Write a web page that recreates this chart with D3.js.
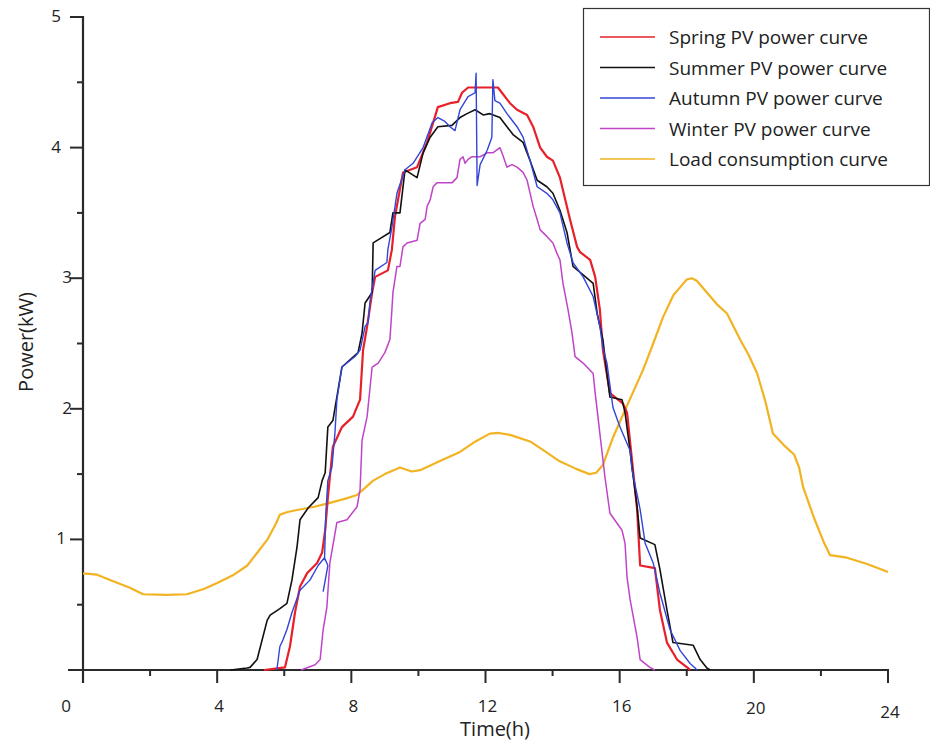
<!DOCTYPE html>
<html><head><meta charset="utf-8">
<script src="https://cdn.jsdelivr.net/npm/d3@7"></script>
<style>body{margin:0;background:#fff}svg{display:block}text{font-family:"Open Sans","Noto Sans",sans-serif;fill:#222}</style>
</head><body><svg id="c" width="930" height="744"></svg>
<script>
// ---- data (hour, kW) ----
const seriesNames = ["Spring PV power curve","Summer PV power curve","Autumn PV power curve","Winter PV power curve","Load consumption curve"];
const seriesColors = ["#e8202a","#111111","#3345d8","#c044c8","#f2b322"];
const xTickLabels = [0,4,8,12,16,20,24];
const yTickLabels = [1,2,3,4,5];

const spring = [[5.4,0],[6.02,0.02],[6.17,0.18],[6.32,0.44],[6.47,0.64],[6.68,0.74],[6.98,0.82],[7.13,0.9],[7.22,1.07],[7.3,1.32],[7.45,1.71],[7.72,1.86],[8.05,1.94],[8.26,2.07],[8.35,2.45],[8.47,2.63],[8.62,2.89],[8.71,3.01],[9.09,3.06],[9.21,3.22],[9.3,3.47],[9.54,3.81],[9.96,3.85],[10.26,4.04],[10.58,4.31],[10.94,4.34],[11.18,4.35],[11.3,4.42],[11.48,4.46],[11.75,4.46],[12.13,4.46],[12.37,4.46],[12.49,4.42],[12.73,4.34],[12.94,4.29],[13.24,4.25],[13.42,4.16],[13.63,4.0],[13.83,3.93],[14.01,3.9],[14.22,3.77],[14.52,3.45],[14.73,3.24],[14.82,3.2],[15.12,3.14],[15.27,3.01],[15.41,2.76],[15.5,2.45],[15.71,2.12],[16.1,2.04],[16.22,1.97],[16.52,1.23],[16.61,0.8],[17.05,0.78],[17.2,0.46],[17.41,0.21],[17.71,0.08],[18.04,0.015],[18.1,0]];

const summer = [[4.4,0],[4.89,0.015],[4.98,0.02],[5.19,0.08],[5.49,0.38],[5.58,0.42],[5.87,0.47],[6.08,0.51],[6.23,0.69],[6.38,0.94],[6.47,1.15],[6.71,1.24],[7.01,1.32],[7.13,1.45],[7.22,1.51],[7.3,1.86],[7.45,1.91],[7.72,2.32],[8.2,2.43],[8.32,2.58],[8.41,2.81],[8.62,2.89],[8.65,3.27],[8.77,3.29],[9.15,3.35],[9.24,3.5],[9.45,3.5],[9.6,3.83],[9.96,3.77],[10.14,3.96],[10.35,4.08],[10.58,4.16],[11.0,4.17],[11.24,4.23],[11.45,4.26],[11.69,4.29],[11.93,4.25],[12.13,4.26],[12.43,4.23],[12.64,4.16],[12.82,4.1],[13.12,4.04],[13.33,3.9],[13.54,3.75],[13.83,3.7],[14.01,3.65],[14.22,3.52],[14.43,3.35],[14.61,3.09],[15.21,2.96],[15.33,2.73],[15.5,2.53],[15.62,2.27],[15.71,2.09],[16.07,2.07],[16.16,1.97],[16.31,1.68],[16.37,1.55],[16.52,1.25],[16.61,1.01],[17.05,0.96],[17.2,0.77],[17.41,0.46],[17.59,0.21],[18.19,0.19],[18.4,0.08],[18.6,0.015],[18.7,0]];

const autumn = [[5.78,0],[5.87,0.18],[5.96,0.23],[6.08,0.31],[6.23,0.44],[6.47,0.61],[6.77,0.69],[7.01,0.8],[7.2,0.86],[7.3,0.8],[7.16,0.6],null,[7.2,0.84],[7.24,1.2],[7.3,1.45],[7.42,1.55],[7.51,1.81],[7.57,2.07],[7.72,2.32],[8.11,2.4],[8.26,2.45],[8.41,2.63],[8.5,2.66],[8.56,2.83],[8.71,3.06],[9.06,3.12],[9.09,3.22],[9.21,3.39],[9.36,3.65],[9.6,3.83],[9.84,3.88],[10.14,4.0],[10.41,4.19],[10.58,4.23],[10.79,4.2],[10.94,4.16],[11.09,4.13],[11.24,4.29],[11.48,4.39],[11.69,4.42],[11.72,4.57],[11.75,3.71],[11.84,3.87],[12.05,3.98],[12.19,4.08],[12.22,4.52],[12.28,4.36],[12.43,4.34],[12.64,4.26],[12.94,4.16],[13.12,4.08],[13.33,3.9],[13.54,3.7],[13.83,3.65],[14.01,3.6],[14.22,3.5],[14.43,3.27],[14.61,3.12],[14.91,3.01],[15.21,2.86],[15.41,2.63],[15.5,2.47],[15.62,2.35],[15.8,2.01],[16.01,1.86],[16.31,1.68],[16.37,1.53],[16.61,1.23],[16.76,0.97],[17.0,0.82],[17.2,0.59],[17.5,0.31],[17.8,0.15],[18.1,0.05],[18.25,0.015],[18.3,0]];

const winter = [[6.5,0],[6.92,0.04],[7.07,0.08],[7.16,0.31],[7.27,0.48],[7.36,0.82],[7.57,1.13],[7.87,1.15],[8.17,1.25],[8.26,1.38],[8.32,1.76],[8.47,1.94],[8.62,2.32],[8.8,2.35],[9.0,2.43],[9.15,2.53],[9.21,2.76],[9.24,2.89],[9.36,3.09],[9.45,3.09],[9.54,3.24],[9.66,3.27],[9.96,3.29],[10.05,3.42],[10.2,3.45],[10.26,3.55],[10.35,3.6],[10.44,3.7],[10.55,3.73],[11.0,3.73],[11.15,3.77],[11.24,3.91],[11.33,3.93],[11.39,3.88],[11.48,3.91],[11.6,3.93],[11.84,3.93],[12.05,3.96],[12.22,3.96],[12.43,4.0],[12.52,3.94],[12.64,3.85],[12.79,3.87],[12.94,3.85],[13.12,3.81],[13.24,3.75],[13.33,3.65],[13.42,3.55],[13.54,3.45],[13.63,3.37],[13.83,3.32],[14.01,3.27],[14.13,3.19],[14.22,3.14],[14.31,2.96],[14.46,2.76],[14.58,2.58],[14.67,2.4],[14.91,2.35],[15.21,2.27],[15.27,2.12],[15.33,1.99],[15.41,1.81],[15.47,1.68],[15.56,1.48],[15.71,1.2],[16.07,1.07],[16.16,0.97],[16.22,0.71],[16.31,0.54],[16.52,0.25],[16.61,0.08],[16.9,0.02],[17.05,0]];

const load = [[0,0.74],[0.42,0.73],[0.9,0.68],[1.4,0.63],[1.79,0.58],[2.5,0.575],[3.1,0.58],[3.6,0.62],[4.0,0.666],[4.5,0.73],[4.9,0.8],[5.2,0.9],[5.5,1.0],[5.75,1.12],[5.87,1.19],[6.1,1.21],[6.38,1.225],[6.9,1.25],[7.36,1.28],[7.8,1.31],[8.17,1.34],[8.65,1.45],[9.0,1.5],[9.45,1.55],[9.8,1.52],[10.05,1.53],[10.64,1.6],[11.24,1.67],[11.7,1.75],[12.13,1.81],[12.4,1.815],[12.73,1.8],[13.33,1.75],[13.8,1.67],[14.2,1.6],[14.7,1.54],[15.1,1.5],[15.3,1.51],[15.5,1.57],[15.8,1.78],[16.16,1.99],[16.7,2.3],[17.0,2.5],[17.29,2.7],[17.6,2.87],[17.8,2.93],[18.0,2.99],[18.15,3.0],[18.3,2.98],[18.6,2.89],[18.9,2.8],[19.2,2.73],[19.59,2.53],[19.85,2.41],[20.1,2.27],[20.35,2.05],[20.57,1.81],[20.9,1.72],[21.2,1.65],[21.35,1.55],[21.47,1.4],[21.8,1.16],[22.1,0.97],[22.27,0.88],[22.78,0.86],[23.4,0.81],[24,0.75]];

const allSeries = [spring, summer, autumn, winter, load];
const drawOrder = [4, 3, 0, 1, 2];
const strokeW = [2.2, 1.6, 1.4, 1.5, 2.2];

// ---- chart ----
const svg = d3.select("#c");
const x = d3.scaleLinear().domain([0,24]).range([83,888]);
const y = d3.scaleLinear().domain([0,5]).range([670,17]);

const axisColor = "#2a2a2a";
const gAx = svg.append("g").attr("class","axes");
// x axis line (extends left of y-axis)
gAx.append("line").attr("x1",68).attr("x2",x(24)+1).attr("y1",y(0)).attr("y2",y(0))
  .attr("stroke",axisColor).attr("stroke-width",2.2);
// y axis line
gAx.append("line").attr("x1",x(0)).attr("x2",x(0)).attr("y1",y(5)-1).attr("y2",683)
  .attr("stroke",axisColor).attr("stroke-width",2.2);

// x ticks
const xt = d3.range(0,25,2);
gAx.selectAll("line.xt").data(xt).join("line").attr("class","xt")
  .attr("x1",d=>x(d)).attr("x2",d=>x(d)).attr("y1",y(0))
  .attr("y2",d=>d%4===0?683:676).attr("stroke",axisColor).attr("stroke-width",2);
gAx.selectAll("text.xl").data(xTickLabels).join("text").attr("class","xl")
  .attr("x",d=>d===0?66:x(d)+2).attr("y",d=>d===24?718:(d===20?714:712))
  .attr("text-anchor","middle").style("font-size","17px").text(d=>d);

// y ticks
const yt = d3.range(0.5,5.01,0.5);
gAx.selectAll("line.yt").data(yt).join("line").attr("class","yt")
  .attr("y1",d=>y(d)).attr("y2",d=>y(d)).attr("x1",d=>Number.isInteger(d)?70:77).attr("x2",x(0))
  .attr("stroke",axisColor).attr("stroke-width",2);
gAx.selectAll("text.yl").data(yTickLabels).join("text").attr("class","yl")
  .attr("x",d=>d>=4?61:(d===1?66:72)).attr("y",d=>y(d)+5)
  .attr("text-anchor","end").style("font-size","17px").text(d=>d);

// axis titles
svg.append("text").attr("x",495).attr("y",736).attr("text-anchor","middle")
  .style("font-size","20px").text("Time(h)");
svg.append("text").attr("transform","translate(33,342) rotate(-90)").attr("text-anchor","middle")
  .style("font-size","20px").text("Power(kW)");

// lines
const line = d3.line().defined(d=>d!==null).x(d=>x(d[0])).y(d=>y(d[1]));
drawOrder.forEach(i=>{
  svg.append("path").datum(allSeries[i]).attr("d",line).attr("fill","none")
    .attr("stroke",seriesColors[i]).attr("stroke-width",strokeW[i]).attr("stroke-linejoin","round");
});

// legend
const lg = svg.append("g");
lg.append("rect").attr("x",583.5).attr("y",8.5).attr("width",346).attr("height",177)
  .attr("fill","#fff").attr("stroke","#333").attr("stroke-width",1.2);
const rowY = d3.scalePoint().domain(d3.range(seriesNames.length)).range([37,159]);
seriesNames.forEach((n,i)=>{
  lg.append("line").attr("x1",600).attr("x2",655).attr("y1",rowY(i)).attr("y2",rowY(i))
    .attr("stroke",seriesColors[i]).attr("stroke-width",1.5);
  lg.append("text").attr("x",669).attr("y",rowY(i)+7).style("font-size","19px").text(n);
});
</script></body></html>
